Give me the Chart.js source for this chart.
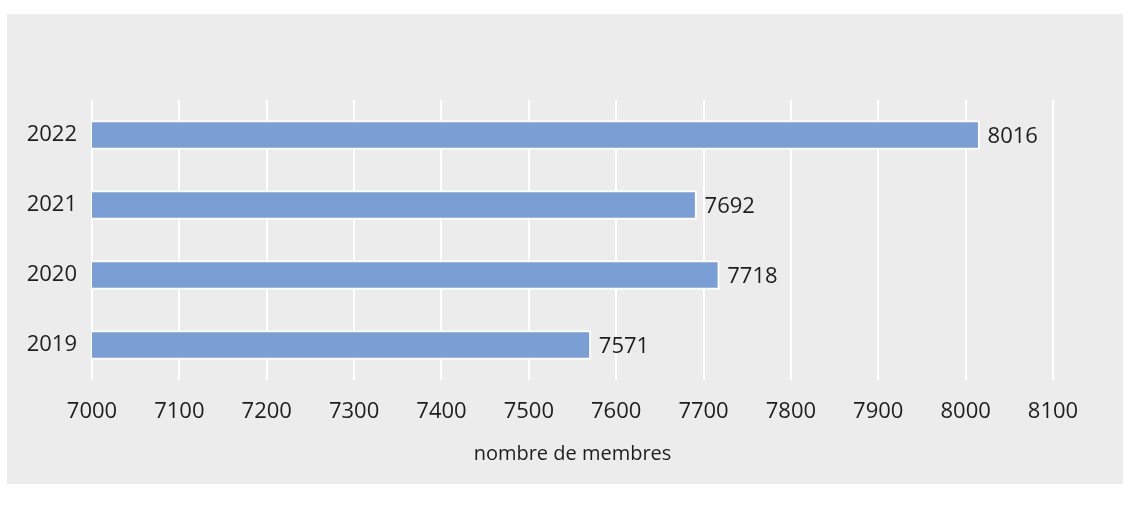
<!DOCTYPE html>
<html>
<head>
<meta charset="utf-8">
<script src="https://cdn.jsdelivr.net/npm/chart.js@4"></script>
<style>
  html, body { margin: 0; padding: 0; background: #fff; }
  #panel { position: absolute; left: 7px; top: 14px; width: 1116px; height: 470px; background: #ececec; }
</style>
</head>
<body>
<div id="panel"><canvas id="membersChart"></canvas></div>
<script>
// data
const years = ['2022', '2021', '2020', '2019'];
const members = [8016, 7692, 7718, 7571];
const xMin = 7000;
const xMax = 8100;
const xTitle = 'nombre de membres';

const textColor = '#1e1e1e';
const fontFamily = "'Open Sans', 'Noto Sans', sans-serif";

// value labels at bar ends
const valueLabels = {
    id: 'valueLabels',
    afterDatasetsDraw(chart) {
        const ctx = chart.ctx;
        const meta = chart.getDatasetMeta(0);
        ctx.save();
        ctx.font = '22px ' + fontFamily;
        ctx.fillStyle = textColor;
        ctx.textAlign = 'left';
        ctx.textBaseline = 'middle';
        meta.data.forEach((bar, i) => {
            ctx.fillText(String(members[i]), bar.x + 8, bar.y + 2);
        });
        ctx.restore();
    }
};

const canvas = document.getElementById('membersChart');
canvas.width = 1116;
canvas.height = 470;

const membersChart = new Chart(canvas, {
    type: 'bar',
    data: {
        labels: years,
        datasets: [{
            data: members,
            backgroundColor: '#7a9fd4',
            borderColor: '#ffffff',
            borderWidth: 2,
            borderSkipped: false,
            barThickness: 29
        }]
    },
    options: {
        indexAxis: 'y',
        responsive: false,
        animation: false,
        layout: { padding: { top: 86, right: 70, left: 0, bottom: 0 } },
        plugins: {
            legend: { display: false },
            tooltip: { enabled: false }
        },
        scales: {
            x: {
                min: xMin,
                max: xMax,
                ticks: {
                    stepSize: 100,
                    color: textColor,
                    padding: 19,
                    font: { family: fontFamily, size: 22 },
                    callback: (v) => String(v)
                },
                grid: { color: '#ffffff', lineWidth: 2, drawTicks: false },
                border: { display: false },
                title: { display: true, text: xTitle, color: textColor, padding: { top: 14, bottom: 18 }, font: { family: fontFamily, size: 20 } },
                afterFit(scale) { scale.height = 104; }
            },
            y: {
                ticks: { color: textColor, padding: 15, font: { family: fontFamily, size: 22 } },
                grid: { display: false, drawTicks: false },
                border: { display: false },
                afterFit(scale) { scale.width = 85; }
            }
        }
    },
    plugins: [valueLabels]
});
</script>
</body>
</html>
